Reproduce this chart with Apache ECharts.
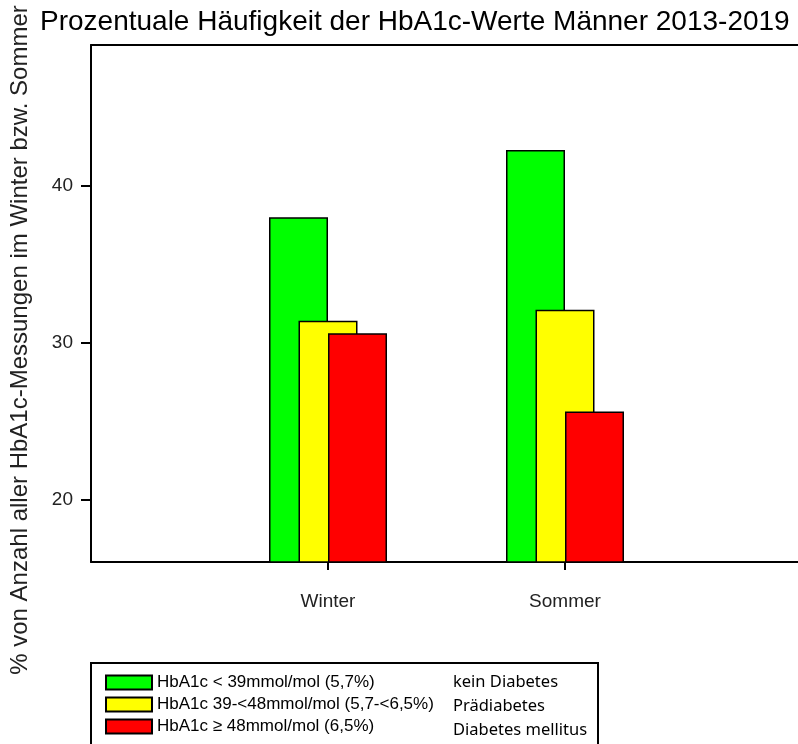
<!DOCTYPE html>
<html>
<head>
<meta charset="utf-8">
<script src="https://cdn.jsdelivr.net/npm/echarts@6/dist/echarts.min.js"></script>
<style>
  html, body { margin: 0; padding: 0; background: #fff; }
  #chart { width: 798px; height: 744px; }
</style>
</head>
<body>
<div id="chart"></div>
<script>
// x-axis positions: empty slots at both ends so the seasons sit where the original puts them
const categories = ["", "Winter", "Sommer", ""];
const seriesNames = [
  "HbA1c < 39mmol/mol (5,7%)",
  "HbA1c 39-<48mmol/mol (5,7-<6,5%)",
  "HbA1c \u2265 48mmol/mol (6,5%)",
];
const diagnoses = ["kein Diabetes", "Prädiabetes", "Diabetes mellitus"];
const colors = ["#00ff00", "#ffff00", "#ff0000"];
const normal = [null, 38.0, 42.3, null];
const prediabetes = [null, 31.4, 32.1, null];
const diabetes = [null, 30.6, 25.6, null];
const yTicks = [20, 30, 40];

const FONT = "Liberation Sans";
const chart = echarts.init(document.getElementById("chart"));

const values = [normal, prediabetes, diabetes];

chart.setOption({
  animation: false,
  backgroundColor: "#fff",
  textStyle: { fontFamily: FONT },
  title: {
    text: "Prozentuale Häufigkeit der HbA1c-Werte Männer 2013-2019",
    left: 40,
    top: 8,
    padding: 0,
    textStyle: { fontSize: 28, fontWeight: "normal", color: "#000", fontFamily: FONT },
  },
  grid: {
    left: 91,
    right: -4, // plot runs past the right edge in the original
    top: 45,
    bottom: 182,
    outerBoundsMode: "none",
  },
  legend: {
    orient: "vertical",
    left: 105,
    top: 674,
    padding: 0,
    itemWidth: 46,
    itemHeight: 14,
    itemGap: 5,
    icon: "rect",
    selectedMode: false,
    textStyle: { fontSize: 17, color: "#000", fontFamily: FONT },
    data: seriesNames,
  },
  xAxis: [
    {
      type: "category",
      data: categories,
      boundaryGap: false,
      axisLine: { lineStyle: { color: "#000", width: 2 } },
      axisTick: {
        length: 8,
        interval: (i) => i === 1 || i === 2,
        lineStyle: { color: "#000", width: 2 },
      },
      axisLabel: {
        margin: 30,
        fontSize: 19,
        color: "#222",
        fontFamily: FONT,
        interval: 0,
      },
      splitLine: { show: false },
    },
    {
      // frame line along the top of the plot
      type: "category",
      data: categories,
      position: "top",
      boundaryGap: false,
      axisLine: { lineStyle: { color: "#000", width: 2 } },
      axisTick: { show: false },
      axisLabel: { show: false },
      splitLine: { show: false },
    },
  ],
  yAxis: {
    type: "value",
    min: 16,
    max: 49,
    axisLine: { show: true, lineStyle: { color: "#000", width: 2 } },
    axisTick: {
      show: true,
      length: 10,
      customValues: yTicks,
      lineStyle: { color: "#000", width: 2 },
    },
    axisLabel: {
      margin: 18,
      fontSize: 19,
      color: "#222",
      fontFamily: FONT,
      customValues: yTicks,
    },
    splitLine: { show: false },
  },
  series: seriesNames.map((name, i) => ({
    name: name,
    type: "bar",
    data: values[i],
    barWidth: 59,
    barGap: "-50%",
    itemStyle: { color: colors[i], borderColor: "#000", borderWidth: 1.5 },
  })),
  graphic: [
    {
      type: "text",
      x: 20,
      y: 340,
      rotation: Math.PI / 2,
      style: {
        text: "% von Anzahl aller HbA1c-Messungen im Winter bzw. Sommer",
        fontSize: 24,
        fontFamily: FONT,
        fill: "#222",
        align: "center",
        verticalAlign: "middle",
      },
    },
    {
      type: "rect",
      shape: { x: 91, y: 663, width: 507, height: 100 },
      style: { fill: "none", stroke: "#000", lineWidth: 2 },
      z: 10,
    },
  ].concat(
    diagnoses.map((d, i) => ({
      type: "text",
      x: 453,
      y: 682 + i * 24,
      style: {
        text: d,
        fontSize: 16.5,
        fontFamily: "Noto Sans",
        fill: "#000",
        verticalAlign: "middle",
      },
    }))
  ),
});
</script>
</body>
</html>
